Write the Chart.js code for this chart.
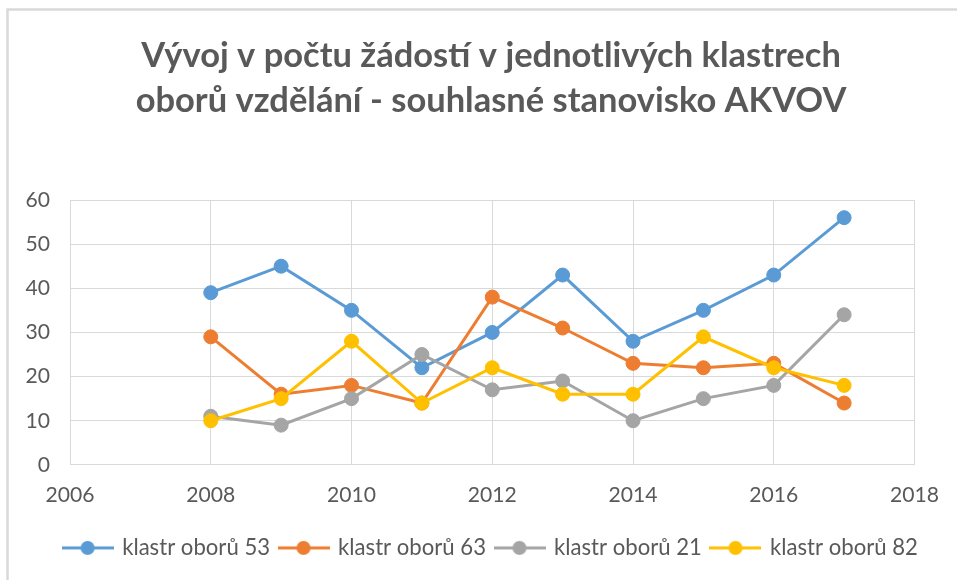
<!DOCTYPE html>
<html><head><meta charset="utf-8">
<script src="https://cdn.jsdelivr.net/npm/chart.js@4/dist/chart.umd.min.js"></script>
<style>html,body{margin:0;padding:0;background:#fff;}#wrap{width:957px;height:580px;position:relative;}</style>
</head><body><div id="wrap"><canvas id="c"></canvas></div>
<script>
const titleLines = ['Vývoj v počtu žádostí v jednotlivých klastrech', 'oborů vzdělání - souhlasné stanovisko AKVOV'];
const years = [2008, 2009, 2010, 2011, 2012, 2013, 2014, 2015, 2016, 2017];
const seriesNames = ['klastr oborů 53', 'klastr oborů 63', 'klastr oborů 21', 'klastr oborů 82'];
const klastr53 = [39, 45, 35, 22, 30, 43, 28, 35, 43, 56];
const klastr63 = [29, 16, 18, 14, 38, 31, 23, 22, 23, 14];
const klastr21 = [11, 9, 15, 25, 17, 19, 10, 15, 18, 34];
const klastr82 = [10, 15, 28, 14, 22, 16, 16, 29, 22, 18];
const xTicks = [2006, 2008, 2010, 2012, 2014, 2016, 2018];
const yTicks = [0, 10, 20, 30, 40, 50, 60];

const colors = ['#5B9BD5', '#ED7D31', '#A5A5A5', '#FFC000'];
const FAMILY = 'Lato, "Open Sans", sans-serif';
const mctx = document.createElement('canvas').getContext('2d');
function fitSize(text, weight, target) {
  mctx.font = weight + ' 100px ' + FAMILY;
  return 100 * target / mctx.measureText(text).width;
}
const titleSize = fitSize(titleLines[0], 'bold', 700);
const legendSize = fitSize(seriesNames[0], 'normal', 148);
const tickSize = fitSize('2006', 'normal', 49);

function legendImage(color) {
  const c = document.createElement('canvas');
  c.width = 52; c.height = 16;
  const g = c.getContext('2d');
  g.strokeStyle = color; g.lineWidth = 3;
  g.beginPath(); g.moveTo(0, 8); g.lineTo(52, 8); g.stroke();
  g.fillStyle = color;
  g.beginPath(); g.arc(26, 8, 7, 0, Math.PI * 2); g.fill();
  return c;
}

const allSeries = [klastr53, klastr63, klastr21, klastr82];
const datasets = allSeries.map((vals, i) => ({
  label: seriesNames[i],
  data: years.map((yr, k) => ({x: yr, y: vals[k]})),
  borderColor: colors[i],
  backgroundColor: colors[i],
  pointBackgroundColor: colors[i],
  pointBorderColor: colors[i],
  borderWidth: 3,
  pointRadius: 7,
  pointBorderWidth: 1,
  tension: 0,
  order: allSeries.length - 1 - i,
  xAxisID: 'x', yAxisID: 'y'
}));

const frame = {
  id: 'frame',
  beforeDraw(chart) {
    const ctx = chart.ctx;
    ctx.save();
    ctx.fillStyle = '#ffffff';
    ctx.fillRect(0, 0, chart.width, chart.height);
    ctx.strokeStyle = '#d9d9d9';
    ctx.lineWidth = 2.5;
    ctx.strokeRect(7.5, 9.5, 1200, 1200);
    ctx.restore();
  }
};

Chart.defaults.font.family = FAMILY;
Chart.defaults.color = '#595959';

new Chart(document.getElementById('c'), {
  type: 'line',
  data: { datasets },
  plugins: [frame],
  options: {
    responsive: true,
    maintainAspectRatio: false,
    animation: false,
    layout: { padding: { left: 25, right: 0, top: 0, bottom: 11 } },
    plugins: {
      tooltip: { enabled: false },
      title: {
        display: true,
        text: titleLines,
        color: '#595959',
        font: { size: titleSize, weight: 'bold', lineHeight: (45 / titleSize) },
        padding: { top: 33, bottom: 77 }
      },
      legend: {
        position: 'bottom',
        labels: {
          color: '#595959',
          font: { size: legendSize },
          usePointStyle: true,
          pointStyleWidth: 47,
          padding: 10,
          generateLabels(chart) {
            return chart.data.datasets.map((ds, i) => ({
              text: ds.label,
              pointStyle: legendImage(colors[i]),
              fillStyle: colors[i],
              strokeStyle: colors[i],
              lineWidth: 0,
              fontColor: '#595959',
              hidden: false,
              datasetIndex: i
            }));
          }
        }
      }
    },
    scales: {
      x: {
        type: 'linear',
        position: 'bottom',
        min: 2006, max: 2018,
        afterBuildTicks(scale) { scale.ticks = xTicks.map(v => ({value: v})); },
        afterFit(scale) { scale.height = 62; },
        ticks: { color: '#595959', font: { size: tickSize }, padding: 18, callback: v => String(v), maxRotation: 0 },
        grid: { color: '#d9d9d9', drawTicks: false, lineWidth: 1 },
        border: { color: '#d9d9d9', width: 1 }
      },
      y: {
        type: 'linear',
        position: 'left',
        min: 0, max: 60,
        afterBuildTicks(scale) { scale.ticks = yTicks.map(v => ({value: v})); },
        afterFit(scale) { scale.width = 45; },
        ticks: { color: '#595959', font: { size: tickSize }, padding: 20, callback: v => String(v) },
        grid: { color: '#d9d9d9', drawTicks: false, lineWidth: 1 },
        border: { color: '#d9d9d9', width: 1 }
      },
      yR: {
        type: 'linear',
        position: 'right',
        display: true,
        afterFit(scale) { scale.width = 42; },
        ticks: { display: false },
        grid: { display: false, drawTicks: false },
        border: { display: false }
      }
    }
  }
});
</script></body></html>
